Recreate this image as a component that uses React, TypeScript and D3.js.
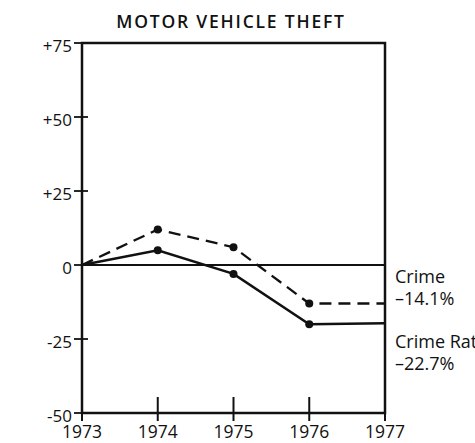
import React from 'react';
import * as d3 from 'd3';

// percent change since 1973
const years = [1973, 1974, 1975, 1976, 1977];
const crime = [0, 12, 6, -13, -13];
const crimeRate = [0, 5, -3, -20, -19.7];
const yTicks = [75, 50, 25, 0, -25, -50];
const yTickLabels = ['+75', '+50', '+25', '0', '-25', '-50'];
const endLabels = [
    { name: 'Crime', value: '\u201314.1%' },
    { name: 'Crime Rate', value: '\u201322.7%' },
];

const W = 475;
const H = 443;
const font = "'Open Sans', 'DejaVu Sans', sans-serif";

export default function App() {
    const x = d3.scaleLinear().domain([1973, 1977]).range([82, 385]);
    const y = d3.scaleLinear().domain([-50, 75]).range([413, 43]);

    const line = d3.line<number>()
        .x((d, i) => x(years[i]))
        .y(d => y(d));

    const dots = (vals: number[]) =>
        vals.slice(1, 4).map((v, i) => (
            <circle key={i} cx={x(years[i + 1])} cy={y(v)} r={4} fill="#111" />
        ));

    const [x0, x1] = x.range();
    const [yb, yt] = y.range();

    return (
        <svg width={W} height={H} style={{ position: 'absolute', left: 0, top: 0, background: '#fff' }}>
            <text x={231} y={28} textAnchor="middle" fontFamily={font} fontSize={17.5}
                letterSpacing={1.8} fill="#111" fontWeight={600}>
                MOTOR VEHICLE THEFT
            </text>

            {/* frame */}
            <rect x={x0} y={yt} width={x1 - x0} height={yb - yt}
                fill="none" stroke="#111" strokeWidth={2.5} />

            {/* zero line */}
            <line x1={x0} x2={x1} y1={y(0)} y2={y(0)} stroke="#111" strokeWidth={2} />

            {/* y ticks */}
            {yTicks.map((t, i) => (
                <g key={t}>
                    <line x1={x0 - 8} x2={x0 + 6} y1={y(t)} y2={y(t)} stroke="#111" strokeWidth={1.8} />
                    <text x={x0 - 10} y={y(t) + 8.5} textAnchor="end" fontFamily={font}
                        fontSize={17} fill="#111">{yTickLabels[i]}</text>
                </g>
            ))}

            {/* x ticks */}
            {years.map(yr => (
                <g key={yr}>
                    <line x1={x(yr)} x2={x(yr)} y1={yb - 16} y2={yb + 8} stroke="#111" strokeWidth={2} />
                    <text x={x(yr)} y={438} textAnchor="middle" fontFamily={font}
                        fontSize={17.5} fill="#111">{yr}</text>
                </g>
            ))}

            {/* series */}
            <path d={line(crime) || ''} fill="none" stroke="#111" strokeWidth={2.3}
                strokeDasharray="12,7" />
            <path d={line(crimeRate) || ''} fill="none" stroke="#111" strokeWidth={2.5} />
            {dots(crime)}
            {dots(crimeRate)}

            {/* end labels */}
            {endLabels.map((l, i) => {
                const base = i === 0 ? 283 : 348;
                return (
                    <g key={l.name} fontFamily={font} fontSize={18} fill="#111">
                        <text x={395} y={base}>{l.name}</text>
                        <text x={395} y={base + 22}>{l.value}</text>
                    </g>
                );
            })}
        </svg>
    );
}
